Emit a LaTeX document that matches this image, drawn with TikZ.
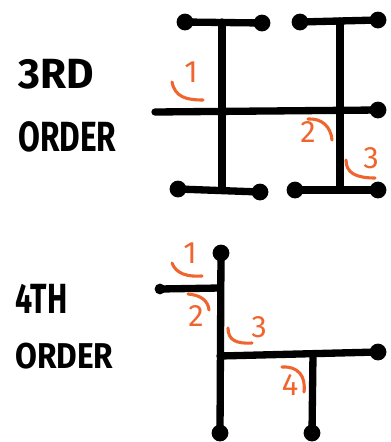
\documentclass[tikz,border=0pt]{standalone}
\usepackage{fontspec}
\setmainfont{Fira Sans}
\usetikzlibrary{positioning}
\definecolor{marca}{RGB}{240,100,45}

\tikzset{
  punta/.style={circle, fill=black, inner sep=0pt, minimum size=0.42cm},
  union/.style={circle, fill=black, inner sep=0pt, minimum size=0.27cm},
  rama/.style={line width=5.2pt, line cap=round},
  angulo/.style={draw=marca, line width=2.2pt, line cap=round},
  numero/.style={text=marca, font=\fontsize{22}{22}\selectfont},
  titulo/.style={font=\fontsize{30}{30}\selectfont\bfseries, inner sep=0pt, anchor=west}
}

\begin{document}
\begin{tikzpicture}[x=0.025cm, y=-0.025cm]
\useasboundingbox (0,0) rectangle (390,442);

% Tercer orden: extremos
\node[punta] (tl) at (185,22) {};
\node[punta] (tr) at (262,23) {};
\node[punta] (bl) at (178,189) {};
\node[punta] (br) at (260,192) {};
\node[punta] (trl) at (300,22) {};
\node[punta] (trr) at (378,20) {};
\node[punta] (brl) at (295,190) {};
\node[punta] (brr) at (378,190) {};
\node[punta] (mr) at (378,110) {};
\node[union] (j1) at (222,112) {};
\coordinate (m0) at (155,112);
\coordinate (ta) at (222,22);
\coordinate (tb) at (222,189);
\coordinate (tc) at (340,21);
\coordinate (bc) at (340,190);

% Tercer orden: ramas
\draw[rama] (tl.center) -- (tr.center);
\draw[rama] (ta) -- (tb);
\draw[rama] (m0) -- (mr.center);
\draw[rama] (trl.center) -- (trr.center);
\draw[rama] (tc) -- (bc);
\draw[rama] (bl.center) -- (br.center);
\draw[rama] (brl.center) -- (brr.center);

% Tercer orden: angulos
\draw[angulo] (172,82) .. controls (175,97) and (186,100) .. (203,100);
\draw[angulo] (308,119) .. controls (322,118) and (331,127) .. (332,140);
\draw[angulo] (346,160) .. controls (346,173) and (356,178) .. (375,178);
\node[numero] (n1) at (191,72) {1};
\node[numero] (n2) at (308,132) {2};
\node[numero] (n3) at (371,158) {3};

% Cuarto orden: extremos
\node[punta] (c1) at (221,253) {};
\node[punta] (c2) at (220,433) {};
\node[union] (c3) at (160,289) {};
\node[punta] (c4) at (378,352) {};
\node[punta] (c5) at (312,433) {};
\coordinate (k1) at (220,288);
\coordinate (k2) at (220,356);
\coordinate (k3) at (313,354);

% Cuarto orden: ramas
\draw[rama] (c1.center) -- (c2.center);
\draw[rama] (c3.center) -- (k1);
\draw[rama] (k2) -- (c4.center);
\draw[rama] (k3) -- (c5.center);

% Cuarto orden: angulos
\draw[angulo] (172,263) .. controls (176,274) and (188,277) .. (202,276);
\draw[angulo] (188,294) .. controls (200,295) and (208,300) .. (209,310);
\draw[angulo] (228,328) .. controls (228,340) and (236,344) .. (252,343);
\draw[angulo] (282,367) .. controls (298,366) and (306,376) .. (304,392);
\node[numero] (p1) at (190,253) {1};
\node[numero] (p2) at (196,316) {2};
\node[numero] (p3) at (259,327) {3};
\node[numero] (p4) at (290,385) {4};

% Etiquetas
\node[titulo] (e3) at (18,74) {3RD};
\node[titulo, xscale=0.75] (e3b) at (18,137) {ORDER};
\node[titulo, xscale=0.72] (e4) at (15,299) {4TH};
\node[titulo, xscale=0.75, yscale=0.85] (e4b) at (15,356) {ORDER};
\end{tikzpicture}
\end{document}
